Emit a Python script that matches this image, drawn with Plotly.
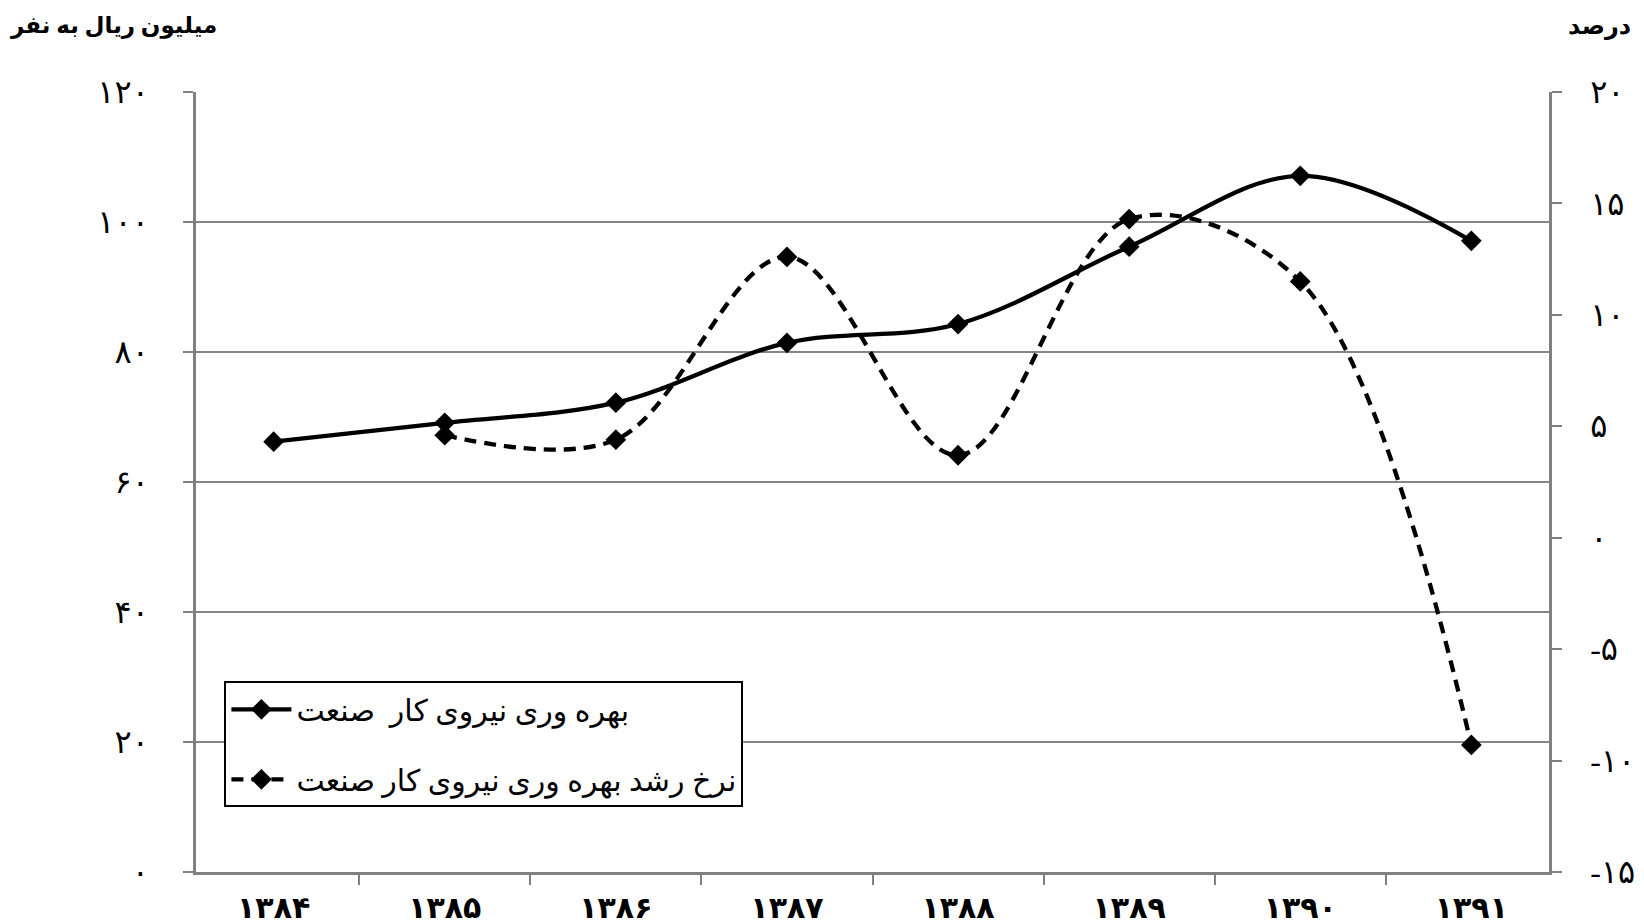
import plotly.graph_objects as go

# ---- data ----
years = ["۱۳۸۴", "۱۳۸۵", "۱۳۸۶", "۱۳۸۷", "۱۳۸۸", "۱۳۸۹", "۱۳۹۰", "۱۳۹۱"]
productivity = [66.2, 69.1, 72.2, 81.4, 84.3, 96.2, 107.1, 97.1]          # million rials per person
growth_rate = [None, 4.6, 4.4, 12.6, 3.7, 14.3, 11.5, -9.3]               # percent

left_ticks = [0, 20, 40, 60, 80, 100, 120]
right_ticks = [-15, -10, -5, 0, 5, 10, 15, 20]

name_prod = "بهره وری نیروی کار  صنعت"
name_growth = "نرخ رشد بهره وری نیروی کار صنعت"
title_left = "میلیون ریال به نفر"
title_right = "درصد"

FA = str.maketrans("0123456789", "۰۱۲۳۴۵۶۷۸۹")
def fa(v):
    return str(v).translate(FA)

FONT = "Times New Roman, Liberation Serif, DejaVu Sans, serif"
GRAY = "#808080"

fig = go.Figure()
fig.add_trace(go.Scatter(
    x=years, y=productivity, name=name_prod, mode="lines+markers",
    legendgroup="a",
    line=dict(color="black", width=4.3, shape="spline", smoothing=1),
    marker=dict(symbol="diamond", size=16, color="black"),
    yaxis="y"))
fig.add_trace(go.Scatter(
    x=years, y=growth_rate, name=name_growth, mode="lines+markers",
    legendgroup="b",
    line=dict(color="black", width=4.3, shape="spline", smoothing=1, dash="12px,8px"),
    marker=dict(symbol="diamond", size=16, color="black"),
    connectgaps=False, yaxis="y2"))

fig.update_layout(
    width=1644, height=924,
    margin=dict(l=196, r=95, t=92, b=52),
    paper_bgcolor="white", plot_bgcolor="white",
    font=dict(family=FONT, color="black", size=24),
    showlegend=True,
    legend=dict(x=0.021, y=0.2445, xanchor="left", yanchor="top",
                bgcolor="white", bordercolor="black", borderwidth=2,
                font=dict(size=30, family=FONT), tracegroupgap=28,
                traceorder="grouped", itemwidth=60),
    xaxis=dict(type="category", tickson="boundaries", ticks="outside", ticklen=10,
               tickcolor=GRAY, tickwidth=2, showline=True, linecolor=GRAY, linewidth=2.5,
               showgrid=False, automargin=False,
               tickfont=dict(size=30, family=FONT, weight="bold"),
               ticklabelstandoff=7),
    yaxis=dict(range=[0, 120], tickvals=left_ticks, ticktext=[fa(v) for v in left_ticks],
               ticks="outside", ticklen=10, tickcolor=GRAY, tickwidth=2,
               showline=True, linecolor=GRAY, linewidth=2.5,
               showgrid=True, gridcolor="#858585", gridwidth=1.5,
               zeroline=False, automargin=False,
               tickfont=dict(size=32, family=FONT),
               ticklabelstandoff=28),
    yaxis2=dict(range=[-15, 20], overlaying="y", side="right",
                tickvals=right_ticks, ticktext=[fa(v) for v in right_ticks],
                ticks="outside", ticklen=10, tickcolor=GRAY, tickwidth=2,
                showline=True, linecolor=GRAY, linewidth=2.5,
                showgrid=False, zeroline=False, automargin=False,
                tickfont=dict(size=32, family=FONT), ticklabelstandoff=22),
    annotations=[
        dict(text="<b>" + title_left + "</b>", xref="paper", yref="paper",
             x=-0.061, y=1.084, xanchor="center", yanchor="middle",
             showarrow=False, font=dict(size=23, family=FONT)),
        dict(text="<b>" + title_right + "</b>", xref="paper", yref="paper",
             x=1.037, y=1.084, xanchor="center", yanchor="middle",
             showarrow=False, font=dict(size=24, family=FONT)),
    ],
)

fig.write_html(
    "out.html",
    config={"displayModeBar": False},
    post_script="document.documentElement.style.margin='0';document.body.style.margin='0';"
                "document.body.style.overflow='hidden';",
)
